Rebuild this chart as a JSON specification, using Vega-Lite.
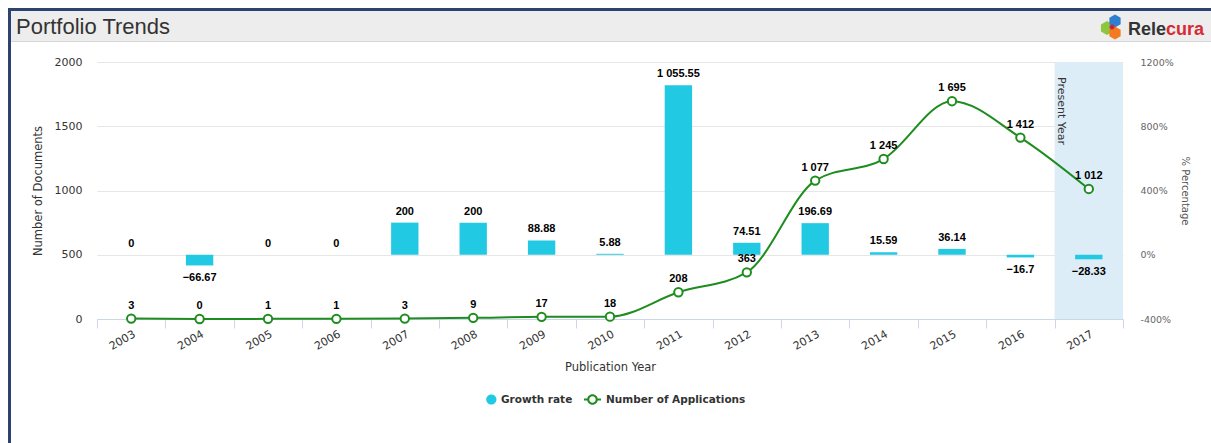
{
  "$schema": "https://vega.github.io/schema/vega-lite/v6.json",
  "padding": {"left": 8, "top": 8, "right": 0, "bottom": 0},
  "background": "white",
  "config": {
    "view": {"stroke": null},
    "font": "DejaVu Sans",
    "locale": {"number": {"decimal": ".", "thousands": " ", "grouping": [3], "currency": ["", ""]}}
  },
  "datasets": {
    "trend": [
      {"year": "2003", "count": 3, "growth": 0},
      {"year": "2004", "count": 0, "growth": -66.67},
      {"year": "2005", "count": 1, "growth": 0},
      {"year": "2006", "count": 1, "growth": 0},
      {"year": "2007", "count": 3, "growth": 200},
      {"year": "2008", "count": 9, "growth": 200},
      {"year": "2009", "count": 17, "growth": 88.88},
      {"year": "2010", "count": 18, "growth": 5.88},
      {"year": "2011", "count": 208, "growth": 1055.55},
      {"year": "2012", "count": 363, "growth": 74.51},
      {"year": "2013", "count": 1077, "growth": 196.69},
      {"year": "2014", "count": 1245, "growth": 15.59},
      {"year": "2015", "count": 1695, "growth": 36.14},
      {"year": "2016", "count": 1412, "growth": -16.7},
      {"year": "2017", "count": 1012, "growth": -28.33}
    ],
    "header": [
      {"part": "title", "label": "Portfolio Trends"},
      {"part": "rele", "label": "Rele"},
      {"part": "cura", "label": "cura"}
    ]
  },
  "bounds": "flush",
  "spacing": 20,
  "vconcat": [
    {
      "width": 1114,
      "height": 31,
      "data": {"name": "header"},
      "transform": [{"filter": "datum.part == 'title'"}],
      "layer": [
        {
          "mark": {"type": "rect", "fill": "#ededed"},
          "encoding": {
            "x": {"datum": 0, "type": "quantitative", "scale": {"domain": [86, 1200], "zero": false, "nice": false}, "axis": null},
            "x2": {"datum": 1200},
            "y": {"datum": 0, "type": "quantitative", "scale": {"domain": [0, 31], "reverse": true, "zero": false, "nice": false}, "axis": null},
            "y2": {"datum": 30}
          }
        },
        {
          "mark": {"type": "rect", "fill": "#d6d6d6"},
          "encoding": {
            "x": {"datum": 0, "type": "quantitative"},
            "x2": {"datum": 1200},
            "y": {"datum": 30, "type": "quantitative"},
            "y2": {"datum": 31}
          }
        },
        {
          "mark": {"type": "rect", "fill": "#2c4370"},
          "encoding": {
            "x": {"datum": -3, "type": "quantitative"},
            "x2": {"datum": 1200},
            "y": {"datum": -3, "type": "quantitative"},
            "y2": {"datum": 0}
          }
        },
        {
          "mark": {"type": "rect", "fill": "#2c4370"},
          "encoding": {
            "x": {"datum": -3, "type": "quantitative"},
            "x2": {"datum": 0},
            "y": {"datum": -3, "type": "quantitative"},
            "y2": {"datum": 432}
          }
        },
        {
          "mark": {"type": "text", "align": "left", "baseline": "alphabetic", "font": "Liberation Sans", "fontSize": 22, "fill": "#333333"},
          "encoding": {
            "x": {"datum": 5, "type": "quantitative"},
            "y": {"datum": 23, "type": "quantitative"},
            "text": {"value": "Portfolio Trends"}
          }
        },
        {
          "mark": {"type": "text", "align": "right", "baseline": "alphabetic", "font": "Liberation Sans", "fontWeight": "bold", "fontSize": 18, "fill": "#333333"},
          "encoding": {
            "x": {"datum": 1155, "type": "quantitative"},
            "y": {"datum": 24, "type": "quantitative"},
            "text": {"value": "Rele"}
          }
        },
        {
          "mark": {"type": "text", "align": "left", "baseline": "alphabetic", "font": "Liberation Sans", "fontWeight": "bold", "fontSize": 18, "fill": "#d42b35"},
          "encoding": {
            "x": {"datum": 1155, "type": "quantitative"},
            "y": {"datum": 24, "type": "quantitative"},
            "text": {"value": "cura"}
          }
        },
        {
          "mark": {"type": "point", "filled": true, "opacity": 1, "fill": "#8dc63f", "shape": "M0,-1L0.866,-0.5L0.866,0.5L0,1L-0.866,0.5L-0.866,-0.5Z", "size": 196},
          "encoding": {"x": {"datum": 1096, "type": "quantitative"}, "y": {"datum": 17, "type": "quantitative"}}
        },
        {
          "mark": {"type": "point", "filled": true, "opacity": 1, "fill": "#2f7fd0", "shape": "M0,-1L0.866,-0.5L0.866,0.5L0,1L-0.866,0.5L-0.866,-0.5Z", "size": 169},
          "encoding": {"x": {"datum": 1104, "type": "quantitative"}, "y": {"datum": 10, "type": "quantitative"}}
        },
        {
          "mark": {"type": "point", "filled": true, "opacity": 1, "fill": "#f47a20", "shape": "M0,-1L0.866,-0.5L0.866,0.5L0,1L-0.866,0.5L-0.866,-0.5Z", "size": 169},
          "encoding": {"x": {"datum": 1104, "type": "quantitative"}, "y": {"datum": 22, "type": "quantitative"}}
        },
        {
          "mark": {"type": "point", "filled": true, "opacity": 1, "fill": "#c8233a", "shape": "M0,-1L0.866,-0.5L0.866,0.5L0,1L-0.866,0.5L-0.866,-0.5Z", "size": 30},
          "encoding": {"x": {"datum": 1101, "type": "quantitative"}, "y": {"datum": 16, "type": "quantitative"}}
        }
      ]
    },
    {
      "width": 1026,
      "height": 257,
      "data": {"name": "trend"},
      "encoding": {
        "x": {
          "field": "year",
          "type": "ordinal",
          "scale": {"paddingInner": 0, "paddingOuter": 0},
          "axis": {
            "title": "Publication Year",
            "labelAngle": -30,
            "labelFont": "DejaVu Sans",
            "labelFontSize": 11,
            "labelColor": "#333333",
            "domainColor": "#ccd6eb",
            "tickColor": "#ccd6eb",
            "tickBand": "extent",
            "tickSize": 9,
            "labelPadding": 0,
            "grid": false,
            "titleFont": "DejaVu Sans",
            "titleFontSize": 11.5,
            "titleFontWeight": "normal",
            "titleColor": "#333333",
            "titlePadding": 10
          }
        }
      },
      "layer": [
        {
          "transform": [{"filter": "datum.year == '2017'"}],
          "mark": {"type": "bar", "color": "#dcedf7", "width": {"band": 1}},
          "encoding": {
            "y": {"datum": 2000, "type": "quantitative", "scale": {"domain": [0, 2000], "nice": false}, "axis": null},
            "y2": {"datum": 0}
          }
        },
        {
          "transform": [{"filter": "datum.year == '2017'"}],
          "mark": {"type": "text", "angle": 90, "align": "left", "baseline": "bottom", "dx": 15, "dy": 33, "font": "DejaVu Sans", "fontSize": 11, "fill": "#333333"},
          "encoding": {
            "y": {"datum": 2000, "type": "quantitative", "scale": {"domain": [0, 2000], "nice": false}, "axis": null},
            "text": {"value": "Present Year"}
          }
        },
        {
          "mark": {"type": "bar", "width": {"band": 0.4}},
          "encoding": {
            "y": {
              "field": "growth",
              "type": "quantitative",
              "scale": {"domain": [-400, 1200], "nice": false},
              "axis": {
                "orient": "right",
                "title": "% Percentage",
                "values": [-400, 0, 400, 800, 1200],
                "labelExpr": "datum.value + '%'",
                "grid": false,
                "domain": false,
                "ticks": false,
                "labelPadding": 17,
                "labelFont": "DejaVu Sans",
                "labelFontSize": 9.5,
                "labelColor": "#666666",
                "titleFont": "DejaVu Sans",
                "titleFontSize": 10,
                "titleFontWeight": "normal",
                "titleColor": "#555555",
                "titlePadding": 6
              }
            },
            "color": {
              "datum": "Growth rate",
              "type": "nominal",
              "scale": {"domain": ["Growth rate", "Number of Applications"], "range": ["#22c9e3", "#1e8c1e"]},
              "legend": {
                "title": null,
                "orient": "none",
                "legendX": 382,
                "legendY": 380,
                "direction": "horizontal",
                "labelFont": "DejaVu Sans",
                "labelFontSize": 10.5,
                "labelFontWeight": "bold",
                "labelColor": "#333333",
                "columnPadding": 11,
                "labelOffset": 5,
                "symbolSize": 289,
                "encode": {
                  "symbols": {
                    "update": {
                      "shape": {"signal": "datum.value === 'Growth rate' ? 'M1.05,0A0.6,0.6,0,1,1,-0.15,0A0.6,0.6,0,1,1,1.05,0Z' : 'M-1,-0.12L-0.45,-0.12L-0.45,0.12L-1,0.12ZM0.45,-0.12L1,-0.12L1,0.12L0.45,0.12ZM0.62,0A0.62,0.62,0,1,1,-0.62,0A0.62,0.62,0,1,1,0.62,0ZM0.38,0A0.38,0.38,0,1,0,-0.38,0A0.38,0.38,0,1,0,0.38,0Z'"},
                      "size": {"value": 289},
                      "strokeWidth": {"value": 0},
                      "opacity": {"value": 1},
                      "fillOpacity": {"value": 1}
                    }
                  }
                }
              }
            }
          }
        },
        {
          "transform": [{"filter": "datum.growth >= 0"}],
          "mark": {"type": "text", "baseline": "alphabetic", "dy": -8, "font": "Liberation Sans", "fontWeight": "bold", "fontSize": 11, "fill": "#000000"},
          "encoding": {
            "y": {"field": "growth", "type": "quantitative", "scale": {"domain": [-400, 1200], "nice": false}, "axis": null},
            "text": {"field": "growth", "type": "quantitative", "format": ","}
          }
        },
        {
          "transform": [{"filter": "datum.growth < 0"}],
          "mark": {"type": "text", "baseline": "alphabetic", "dy": 16, "font": "Liberation Sans", "fontWeight": "bold", "fontSize": 11, "fill": "#000000"},
          "encoding": {
            "y": {"field": "growth", "type": "quantitative", "scale": {"domain": [-400, 1200], "nice": false}, "axis": null},
            "text": {"field": "growth", "type": "quantitative", "format": ","}
          }
        },
        {
          "mark": {"type": "line", "interpolate": "monotone", "strokeWidth": 2},
          "encoding": {
            "y": {
              "field": "count",
              "type": "quantitative",
              "scale": {"domain": [0, 2000], "nice": false},
              "axis": {
                "orient": "left",
                "title": "Number of Documents",
                "values": [0, 500, 1000, 1500, 2000],
                "format": "d",
                "grid": true,
                "gridColor": "#e6e6e6",
                "domain": false,
                "ticks": false,
                "labelPadding": 15,
                "labelFont": "DejaVu Sans",
                "labelFontSize": 11,
                "labelColor": "#333333",
                "titleFont": "DejaVu Sans",
                "titleFontSize": 11.5,
                "titleFontWeight": "normal",
                "titleColor": "#333333",
                "titlePadding": 11
              }
            },
            "color": {"datum": "Number of Applications", "type": "nominal"}
          }
        },
        {
          "mark": {"type": "point", "filled": true, "fill": "#ffffff", "stroke": "#1e8c1e", "strokeWidth": 2, "size": 70, "opacity": 1},
          "encoding": {
            "y": {"field": "count", "type": "quantitative", "scale": {"domain": [0, 2000], "nice": false}, "axis": null}
          }
        },
        {
          "mark": {"type": "text", "baseline": "alphabetic", "dy": -10, "font": "Liberation Sans", "fontWeight": "bold", "fontSize": 11, "fill": "#000000"},
          "encoding": {
            "y": {"field": "count", "type": "quantitative", "scale": {"domain": [0, 2000], "nice": false}, "axis": null},
            "text": {"field": "count", "type": "quantitative", "format": ","}
          }
        }
      ],
      "resolve": {"scale": {"y": "independent"}}
    }
  ]
}
